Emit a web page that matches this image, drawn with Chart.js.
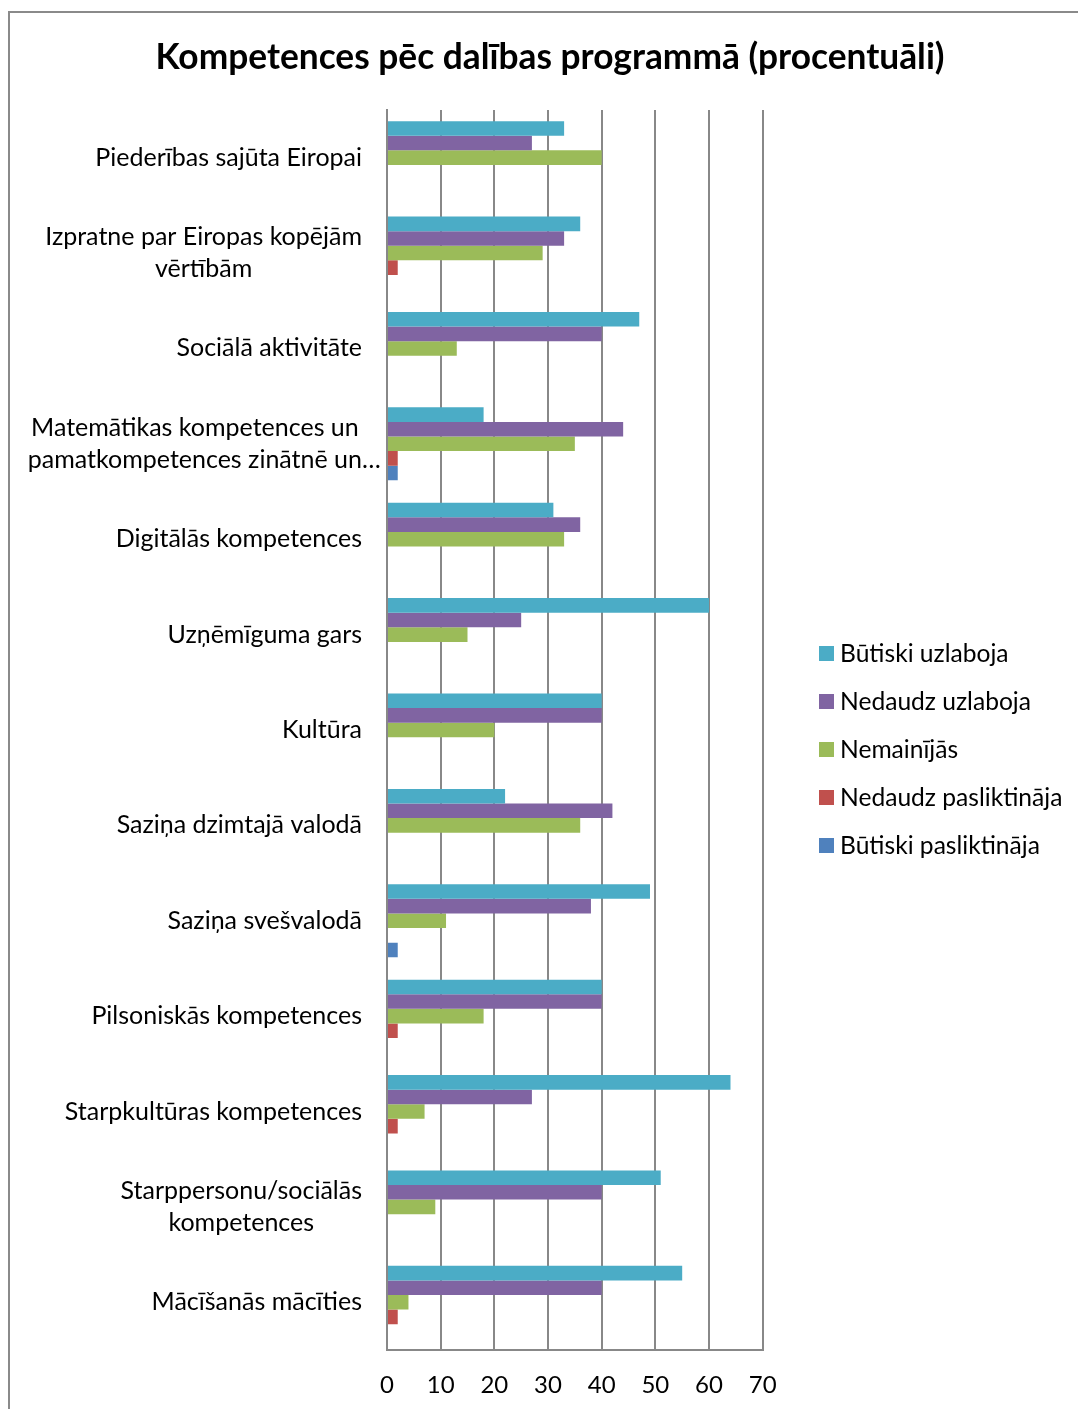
<!DOCTYPE html>
<html>
<head>
<meta charset="utf-8">
<script src="https://cdn.jsdelivr.net/npm/chart.js@4.4.1/dist/chart.umd.min.js"></script>
<style>
  body { margin: 0; background: #fff; font-family: Lato, sans-serif; }
  #wrap { position: relative; width: 1078px; height: 1409px; overflow: hidden; }
  #frame { position: absolute; left: 8px; top: 11px; width: 1200px; height: 1500px;
           border-left: 2px solid #8a8a8a; border-top: 2px solid #8a8a8a; }
  #chart { position: absolute; left: 0; top: 0; }
  #legend { position: absolute; left: 819px; top: 640px; }
  .item { height: 48px; display: flex; align-items: flex-start; font-size: 24.6px; color: #000; line-height: 26px; }
  .box { width: 15px; height: 15px; margin-top: 6px; margin-right: 6px; }
</style>
</head>
<body>
<div id="wrap">
  <div id="frame"></div>
  <canvas id="chart" width="1078" height="1409"></canvas>
  <div id="legend"></div>
</div>
<script>
const categories = [
  ["Piederības sajūta Eiropai"],
  ["Izpratne par Eiropas kopējām", "vērtībām"],
  ["Sociālā aktivitāte"],
  ["Matemātikas kompetences un", "pamatkompetences zinātnē un…"],
  ["Digitālās kompetences"],
  ["Uzņēmīguma gars"],
  ["Kultūra"],
  ["Saziņa dzimtajā valodā"],
  ["Saziņa svešvalodā"],
  ["Pilsoniskās kompetences"],
  ["Starpkultūras kompetences"],
  ["Starppersonu/sociālās", "kompetences"],
  ["Mācīšanās mācīties"]
];

const seriesNames = ["Būtiski uzlaboja", "Nedaudz uzlaboja", "Nemainījās", "Nedaudz pasliktināja", "Būtiski pasliktināja"];
const seriesColors = ["#4BACC6", "#8064A2", "#9BBB59", "#C0504D", "#4F81BD"];

const butiskiUzlaboja = [33, 36, 47, 18, 31, 60, 40, 22, 49, 40, 64, 51, 55];
const nedaudzUzlaboja = [27, 33, 40, 44, 36, 25, 40, 42, 38, 40, 27, 40, 40];
const nemainijas = [40, 29, 13, 35, 33, 15, 20, 36, 11, 18, 7, 9, 4];
const nedaudzPasliktinaja = [0, 2, 0, 2, 0, 0, 0, 0, 0, 2, 2, 0, 2];
const butiskiPasliktinaja = [0, 0, 0, 2, 0, 0, 0, 0, 2, 0, 0, 0, 0];

const xTicks = [0, 10, 20, 30, 40, 50, 60, 70];

const seriesValues = [butiskiUzlaboja, nedaudzUzlaboja, nemainijas, nedaudzPasliktinaja, butiskiPasliktinaja];

const FONT = "Lato";
const gridColor = "#888888";

// category labels: block right aligned, each line centred in the block
const catLabels = {
  id: "catLabels",
  afterDraw(chart) {
    const ctx = chart.ctx;
    const y = chart.scales.y;
    ctx.save();
    ctx.font = "25px " + FONT;
    ctx.fillStyle = "#000";
    ctx.textBaseline = "middle";
    ctx.textAlign = "left";
    const right = 362;
    const lh = 32;
    categories.forEach((lines, i) => {
      const cy = y.getPixelForValue(i);
      const core = lines.map(l => ctx.measureText(l.replace(/…$/, "")).width);
      const block = Math.max(...core);
      const mid = right - block / 2;
      lines.forEach((l, j) => {
        const ly = cy - (lines.length - 1) * lh / 2 + j * lh;
        ctx.fillText(l, mid - core[j] / 2, ly);
      });
    });
    ctx.restore();
  }
};

const ctx = document.getElementById("chart").getContext("2d");
new Chart(ctx, {
  type: "bar",
  data: {
    labels: categories,
    datasets: seriesNames.map((name, i) => ({
      label: name,
      data: seriesValues[i],
      backgroundColor: seriesColors[i],
      borderWidth: 0,
      categoryPercentage: 0.765,
      barPercentage: 1.0
    }))
  },
  options: {
    indexAxis: "y",
    responsive: false,
    animation: false,
    layout: { padding: { left: 22, right: 0, top: 0, bottom: 0 } },
    plugins: {
      legend: { display: false },
      tooltip: { enabled: false },
      title: {
        display: true,
        text: "Kompetences pēc dalības programmā (procentuāli)",
        color: "#000",
        font: { family: FONT, size: 35.3, weight: "bold", lineHeight: 1.2 },
        padding: { top: 36, bottom: 31.6 }
      }
    },
    scales: {
      x: {
        min: 0,
        max: 70,
        afterBuildTicks: s => { s.ticks = xTicks.map(v => ({ value: v })); },
        afterFit: s => { s.height = 59; },
        grid: { color: gridColor, lineWidth: 2, drawTicks: false },
        border: { display: true, color: gridColor, width: 2 },
        ticks: { color: "#000", padding: 21, font: { family: FONT, size: 24 } }
      },
      y: {
        z: 1,
        afterFit: s => { s.width = 365; },
        grid: { display: false, drawTicks: false },
        border: { display: true, color: gridColor, width: 2 },
        ticks: { display: false }
      },
      side: {
        position: "right",
        type: "category",
        labels: [""],
        afterFit: s => { s.width = 315.3; },
        grid: { display: false, drawTicks: false },
        border: { display: false },
        ticks: { display: false }
      }
    }
  },
  plugins: [catLabels]
});

// legend
const legend = document.getElementById("legend");
seriesNames.forEach((name, i) => {
  const row = document.createElement("div");
  row.className = "item";
  const box = document.createElement("span");
  box.className = "box";
  box.style.background = seriesColors[i];
  const txt = document.createElement("span");
  txt.textContent = name;
  row.appendChild(box);
  row.appendChild(txt);
  legend.appendChild(row);
});
</script>
</body>
</html>
